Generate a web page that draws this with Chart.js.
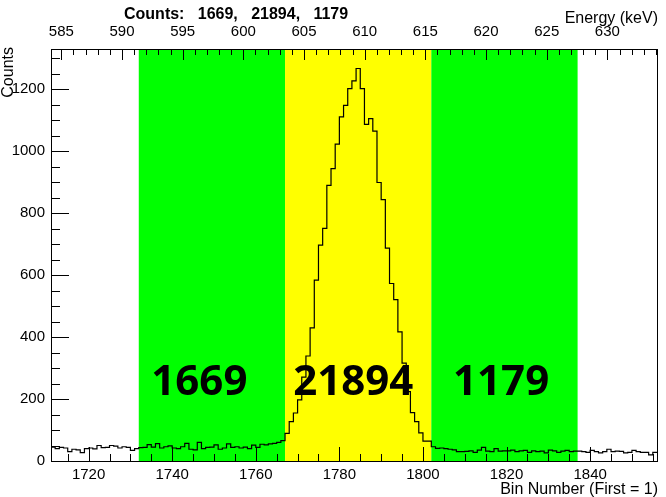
<!DOCTYPE html>
<html>
<head>
<meta charset="utf-8">
<script src="https://cdn.jsdelivr.net/npm/chart.js@4.4.1/dist/chart.umd.min.js"></script>
<style>
  body { margin: 0; background: #fff; }
  #wrap { width: 666px; height: 497px; }
</style>
</head>
<body>
<div id="wrap"><canvas id="spectrum" width="666" height="497"></canvas></div>
<script>
// histogram: one count per bin, bins start at firstBin
const firstBin = 1711;
const lastEdge = 1856;

// 1711 - 1731
const leftSide = [45, 40, 44, 42, 30, 38, 36, 27, 40, 42, 39, 50, 43, 44, 50, 48, 42, 46, 44, 34, 40];
// 1732 - 1766
const leftWindow = [43, 44, 53, 45, 56, 42, 46, 49, 42, 40, 46, 57, 38, 36, 60, 40, 44, 45, 52, 38,
                    42, 55, 44, 46, 42, 45, 40, 51, 44, 54, 52, 55, 57, 60, 66];
// 1767 - 1801
const peakWindow = [89, 127, 155, 197, 271, 339, 430, 584, 697, 751, 890, 944, 1023, 1111, 1148, 1202, 1227, 1267,
                    1202, 1087, 1105, 1065, 899, 844, 687, 573, 521, 417, 316, 224, 156, 127, 91, 64, 64];
// 1802 - 1836
const rightWindow = [46, 41, 42, 40, 38, 36, 30, 30, 31, 33, 28, 35, 44, 32, 30, 40, 32, 33, 33, 35,
                     30, 33, 34, 28, 33, 30, 32, 26, 35, 33, 28, 32, 34, 30, 32];
// 1837 - 1855
const rightSide = [32, 30, 28, 34, 30, 26, 30, 38, 30, 32, 31, 26, 28, 34, 30, 28, 28, 20, 28];

// integration windows (bin edges) and their fill
const windowEdges = [1732, 1767, 1802, 1837];
const windowColors = ['#00ff00', '#ffff00', '#00ff00'];

const binTicks = [1720, 1740, 1760, 1780, 1800, 1820, 1840];
const energyTicks = [585, 590, 595, 600, 605, 610, 615, 620, 625, 630];
const countTicks = [0, 200, 400, 600, 800, 1000, 1200];
const countMax = 1330;

// energy calibration, keV = e0 + gain * (bin - 1720)
const e0 = 587.25;
const gain = 0.3444;
const energyAt = b => e0 + gain * (b - 1720);

const counts = [].concat(leftSide, leftWindow, peakWindow, rightWindow, rightSide);
const points = counts.map((c, i) => ({ x: firstBin + i, y: c }));
points.push({ x: lastEdge, y: counts[counts.length - 1] });

const sum = a => a.reduce((s, v) => s + v, 0);
const windowSums = [leftWindow, peakWindow, rightWindow].map(sum);

// where the window totals are written (bin, counts)
const sumLabelBins = [1746.5, 1783.3, 1818.7];
const sumLabelY = 252;

const tickFont = { family: 'Liberation Sans', size: 15 };
const asTicks = arr => s => { s.ticks = arr.map(v => ({ value: v })); };
const noGrid = { display: false, drawTicks: false };

const windows = {
  id: 'windows',
  beforeDatasetsDraw(chart) {
    const { ctx, chartArea: a, scales: { x } } = chart;
    ctx.save();
    for (let i = 0; i < windowColors.length; i++) {
      const x0 = x.getPixelForValue(windowEdges[i]);
      const x1 = x.getPixelForValue(windowEdges[i + 1]);
      ctx.fillStyle = windowColors[i];
      ctx.fillRect(x0, a.top, x1 - x0, a.bottom - a.top);
    }
    ctx.restore();
  }
};

const frame = {
  id: 'frame',
  afterDatasetsDraw(chart) {
    const { ctx, chartArea: a, scales: { x, xTop, y } } = chart;
    ctx.save();

    // totals inside the windows
    ctx.fillStyle = '#000';
    ctx.font = 'bold 42px "Open Sans"';
    ctx.textAlign = 'center';
    ctx.textBaseline = 'middle';
    windowSums.forEach((v, i) => {
      ctx.fillText(String(v), x.getPixelForValue(sumLabelBins[i]), y.getPixelForValue(sumLabelY));
    });

    ctx.strokeStyle = '#000';
    ctx.lineWidth = 1;
    ctx.beginPath();
    // bottom ticks, every 5 bins
    for (let b = 1715; b < lastEdge; b += 5) {
      const px = Math.round(x.getPixelForValue(b)) + 0.5;
      const len = b % 20 === 0 ? 14 : 7;
      ctx.moveTo(px, a.bottom);
      ctx.lineTo(px, a.bottom - len);
    }
    // top ticks, every keV
    for (let e = Math.ceil(xTop.min); e <= xTop.max; e++) {
      const px = Math.round(xTop.getPixelForValue(e)) + 0.5;
      const len = e % 5 === 0 ? 11 : 6;
      ctx.moveTo(px, a.top);
      ctx.lineTo(px, a.top + len);
    }
    // left ticks, every 50 counts
    for (let c = 50; c < countMax; c += 50) {
      const py = Math.round(y.getPixelForValue(c)) + 0.5;
      const len = c % 200 === 0 ? 18 : 9;
      ctx.moveTo(a.left, py);
      ctx.lineTo(a.left + len, py);
    }
    ctx.stroke();
    ctx.strokeRect(Math.round(a.left) + 0.5, Math.round(a.top) + 0.5,
                   Math.round(a.right - a.left), Math.round(a.bottom - a.top));
    ctx.restore();
  },
  afterDraw(chart) {
    const { ctx, chartArea: a } = chart;
    ctx.save();
    ctx.fillStyle = '#000';
    ctx.textBaseline = 'alphabetic';

    ctx.font = 'bold 16px "Liberation Sans"';
    ctx.textAlign = 'left';
    ctx.fillText('Counts:   ' + windowSums.join(',   '), 124, 19);

    ctx.font = '16px "Liberation Sans"';
    ctx.textAlign = 'right';
    ctx.fillText('Energy (keV)', a.right + 1, 23);
    ctx.fillText('Bin Number (First = 1)', a.right + 1, 494);

    ctx.translate(13, a.top - 2);
    ctx.rotate(-Math.PI / 2);
    ctx.textAlign = 'right';
    ctx.fillText('Counts', 0, 0);
    ctx.restore();
  }
};

new Chart(document.getElementById('spectrum'), {
  type: 'line',
  data: {
    datasets: [{
      data: points,
      stepped: true,
      borderColor: '#000',
      borderWidth: 1.2,
      pointRadius: 0,
      fill: false,
      xAxisID: 'x',
      yAxisID: 'y'
    }]
  },
  options: {
    responsive: false,
    animation: false,
    layout: { padding: { top: 0, right: 9, bottom: 0, left: 0 } },
    plugins: { legend: { display: false }, tooltip: { enabled: false } },
    scales: {
      x: {
        type: 'linear',
        position: 'bottom',
        min: firstBin,
        max: lastEdge,
        grid: noGrid,
        border: { display: false },
        ticks: { font: tickFont, color: '#000', padding: 5, maxRotation: 0, autoSkip: false, callback: v => String(v) },
        afterBuildTicks: asTicks(binTicks),
        afterFit: s => { s.height = 36; }
      },
      xTop: {
        type: 'linear',
        position: 'top',
        min: energyAt(firstBin),
        max: energyAt(lastEdge),
        grid: noGrid,
        border: { display: false },
        ticks: { font: tickFont, color: '#000', padding: 8, maxRotation: 0, autoSkip: false, callback: v => String(v) },
        afterBuildTicks: asTicks(energyTicks),
        afterFit: s => { s.height = 49; }
      },
      y: {
        type: 'linear',
        min: 0,
        max: countMax,
        grid: noGrid,
        border: { display: false },
        ticks: { font: tickFont, color: '#000', padding: 6, autoSkip: false, callback: v => String(v) },
        afterBuildTicks: asTicks(countTicks),
        afterFit: s => { s.width = 51; }
      }
    }
  },
  plugins: [windows, frame]
});
</script>
</body>
</html>
